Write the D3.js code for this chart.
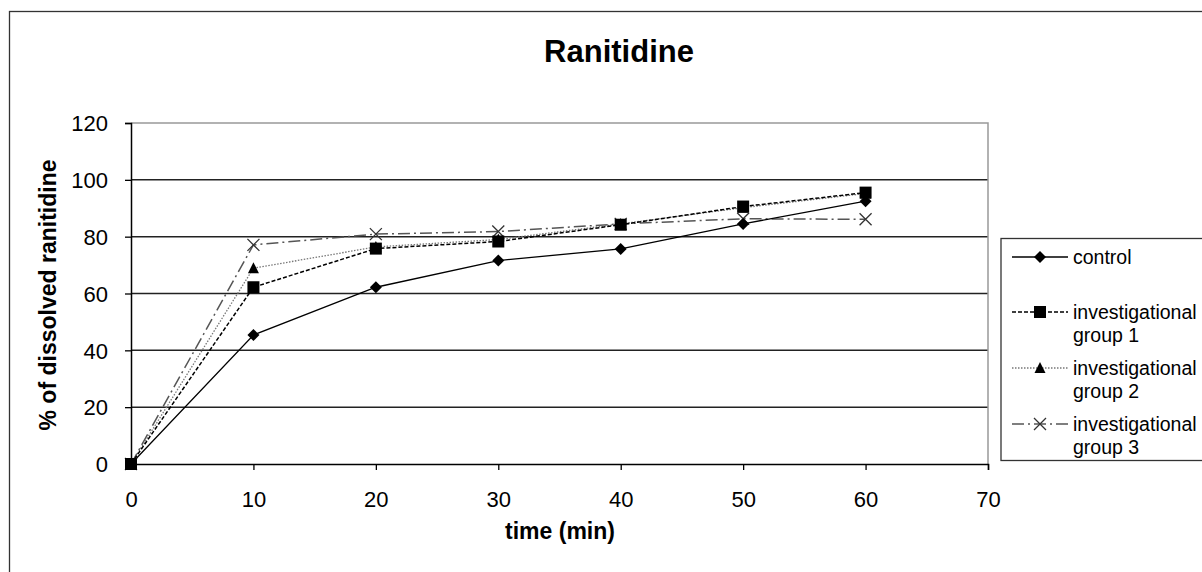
<!DOCTYPE html>
<html>
<head>
<meta charset="utf-8">
<script src="https://cdn.jsdelivr.net/npm/d3@7"></script>
<style>
  body { margin: 0; background: #fff; }
  svg { font-family: "Liberation Sans", Arial, sans-serif; }
</style>
</head>
<body>
<svg id="chart" width="1202" height="572"></svg>
<script>
// data
const times = [0, 10, 20, 30, 40, 50, 60]
const control = [0, 45.4, 62.2, 71.6, 75.7, 84.5, 92.5]
const group1 = [0, 62.2, 75.8, 78.3, 84.2, 90.6, 95.5]
const group2 = [0, 68.9, 76.4, 79, 84.5, 90.2, 95.2]
const group3 = [0, 77.1, 80.9, 81.8, 84.5, 86.3, 86.1]
const xTicks = [0, 10, 20, 30, 40, 50, 60, 70]
const yTicks = [0, 20, 40, 60, 80, 100, 120]

const series = [
  {name: ['control'], values: control, dash: null, color: '#000', width: 1.3, marker: 'diamond'},
  {name: ['investigational', 'group 1'], values: group1, dash: '4,2', color: '#000', width: 1.5, marker: 'square'},
  {name: ['investigational', 'group 2'], values: group2, dash: '1.5,1.5', color: '#777', width: 1.3, marker: 'triangle'},
  {name: ['investigational', 'group 3'], values: group3, dash: '12,4,2,4', color: '#555', width: 1.5, marker: 'cross'}
]

const svg = d3.select('#chart')

// outer frame
svg.append('rect')
  .attr('x', 9.5).attr('y', 11.5)
  .attr('width', 1300).attr('height', 700)
  .attr('fill', 'none').attr('stroke', '#333').attr('stroke-width', 1.3)

const x = d3.scaleLinear().domain([0, 70]).range([131, 988])
const y = d3.scaleLinear().domain([0, 120]).range([464, 123])

// grid
svg.append('g')
  .selectAll('line')
  .data(yTicks.filter(d => d > 0 && d < 120))
  .join('line')
  .attr('x1', x(0)).attr('x2', x(70))
  .attr('y1', d => y(d)).attr('y2', d => y(d))
  .attr('stroke', '#222').attr('stroke-width', 1.5)

// plot frame (top/right gray)
svg.append('path')
  .attr('d', `M${x(0)},${y(120)}H${x(70)}V${y(0)}`)
  .attr('fill', 'none').attr('stroke', '#999').attr('stroke-width', 1.5)

const xAxis = svg.append('g')
  .attr('transform', `translate(0,${y(0)})`)
  .call(d3.axisBottom(x).tickValues(xTicks).tickSize(6).tickPadding(21).tickFormat(d3.format('d')))
const yAxis = svg.append('g')
  .attr('transform', `translate(${x(0)},0)`)
  .call(d3.axisLeft(y).tickValues(yTicks).tickSize(6).tickPadding(17).tickFormat(d3.format('d')))

;[xAxis, yAxis].forEach(a => {
  a.select('.domain').attr('stroke', '#000').attr('stroke-width', 1.5)
  a.selectAll('.tick line').attr('stroke', '#000').attr('stroke-width', 1.3)
  a.selectAll('.tick text').attr('font-size', 22).attr('fill', '#000')
    .attr('font-family', '"Liberation Sans", Arial, sans-serif')
})
yAxis.selectAll('.tick text').attr('dy', '0.35em')

const line = d3.line()
  .x((d, i) => x(times[i]))
  .y(d => y(d))

function drawMarker (g, type, cx, cy) {
  if (type === 'diamond') {
    g.append('path').attr('d', `M${cx},${cy - 6}L${cx + 6},${cy}L${cx},${cy + 6}L${cx - 6},${cy}Z`).attr('fill', '#000')
  } else if (type === 'square') {
    g.append('rect').attr('x', cx - 6).attr('y', cy - 6).attr('width', 12).attr('height', 12).attr('fill', '#000')
  } else if (type === 'triangle') {
    g.append('path').attr('d', `M${cx},${cy - 6}L${cx + 5.5},${cy + 5}L${cx - 5.5},${cy + 5}Z`).attr('fill', '#000')
  } else {
    g.append('path').attr('d', `M${cx - 6},${cy - 6}L${cx + 6},${cy + 6}M${cx - 6},${cy + 6}L${cx + 6},${cy - 6}`)
      .attr('stroke', '#333').attr('stroke-width', 1.3)
  }
}

// draw in reverse so control is on top
series.slice().reverse().forEach(s => {
  const g = svg.append('g')
  g.append('path')
    .datum(s.values)
    .attr('d', line)
    .attr('fill', 'none')
    .attr('stroke', s.color)
    .attr('stroke-width', s.width)
    .attr('stroke-dasharray', s.dash)
  s.values.forEach((v, i) => drawMarker(g, s.marker, x(times[i]), y(v)))
})

// title and axis labels
svg.append('text')
  .attr('x', 619).attr('y', 62)
  .attr('text-anchor', 'middle')
  .attr('font-size', 31).attr('font-weight', 'bold')
  .text('Ranitidine')

svg.append('text')
  .attr('x', 560).attr('y', 539)
  .attr('text-anchor', 'middle')
  .attr('font-size', 23).attr('font-weight', 'bold')
  .text('time (min)')

svg.append('text')
  .attr('transform', 'translate(56,295) rotate(-90)')
  .attr('text-anchor', 'middle')
  .attr('font-size', 23).attr('font-weight', 'bold')
  .text('% of dissolved ranitidine')

// legend
const legend = svg.append('g')
legend.append('rect')
  .attr('x', 1001).attr('y', 238.5)
  .attr('width', 250).attr('height', 222)
  .attr('fill', '#fff').attr('stroke', '#333').attr('stroke-width', 1.3)

const legendY = [257, 312, 368, 424]
series.forEach((s, i) => {
  const ly = legendY[i]
  legend.append('line')
    .attr('x1', 1012).attr('x2', 1068)
    .attr('y1', ly).attr('y2', ly)
    .attr('stroke', s.color).attr('stroke-width', s.width)
    .attr('stroke-dasharray', s.dash)
  drawMarker(legend, s.marker, 1040, ly)
  s.name.forEach((t, j) => {
    legend.append('text')
      .attr('x', 1073).attr('y', ly + 7 + j * 23)
      .attr('font-size', 19.5).attr('fill', '#000')
      .text(t)
  })
})
</script>
</body>
</html>
